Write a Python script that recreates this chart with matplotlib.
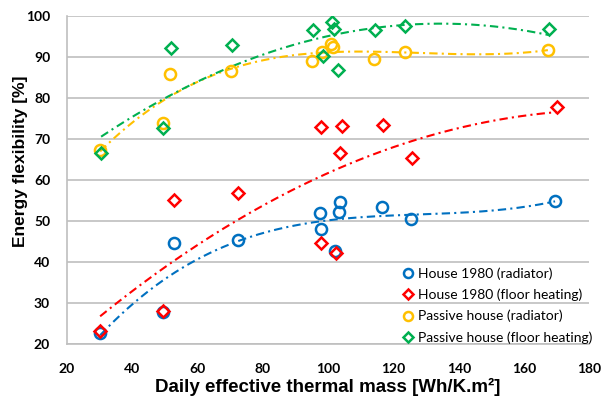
import numpy as np
import matplotlib
matplotlib.use("Agg")
import matplotlib.pyplot as plt
from matplotlib.lines import Line2D

# House 1980 (radiator)
h80_rad_x = [30.2, 49.3, 52.9, 72.4, 97.6, 97.9, 102.2, 103.2, 103.7, 116.6, 125.3, 169.5]
h80_rad_y = [22.8, 27.8, 44.6, 45.4, 52.0, 48.0, 42.7, 52.3, 54.5, 53.3, 50.4, 54.8]
# House 1980 (floor heating)
h80_flr_x = [30.2, 49.3, 52.9, 72.4, 97.9, 102.5, 97.9, 104.2, 103.5, 116.9, 125.6, 170.1]
h80_flr_y = [23.2, 28.1, 55.1, 56.8, 44.6, 42.3, 72.8, 73.2, 66.5, 73.5, 65.3, 77.9]
# Passive house (radiator)
ph_rad_x = [30.2, 49.3, 51.7, 70.4, 95.1, 98.0, 101.0, 101.4, 114.2, 123.6, 167.3]
ph_rad_y = [67.3, 73.8, 85.9, 86.6, 89.1, 91.1, 93.1, 92.5, 89.6, 91.3, 91.7]
# Passive house (floor heating)
ph_flr_x = [30.5, 49.6, 51.9, 70.5, 95.3, 98.4, 101.2, 101.7, 102.9, 114.4, 123.7, 167.5]
ph_flr_y = [66.6, 72.6, 92.1, 92.8, 96.5, 90.3, 98.6, 96.8, 86.8, 96.6, 97.6, 96.8]

labels = ["House 1980 (radiator)", "House 1980 (floor heating)",
          "Passive house (radiator)", "Passive house (floor heating)"]
colors = ["#0070C0", "#FF0000", "#FFC000", "#00B050"]
markers = ["o", "D", "o", "D"]
trend_order = [3, 2, 3, 2]   # polynomial trendline order per series

plt.rcParams["lines.scale_dashes"] = False

fig = plt.figure(figsize=(6.02, 3.97), dpi=100)
ax = fig.add_axes([0.111, 0.1335, 0.868, 0.8265])

series = [(h80_rad_x, h80_rad_y), (h80_flr_x, h80_flr_y),
          (ph_rad_x, ph_rad_y), (ph_flr_x, ph_flr_y)]

for (xs, ys), col, mk, deg in zip(series, colors, markers, trend_order):
    xs = np.array(xs)
    ys = np.array(ys)
    coef = np.polyfit(xs, ys, deg)
    xt = np.linspace(xs.min(), xs.max(), 200)
    ax.plot(xt, np.polyval(coef, xt), color=col, lw=1.5,
            linestyle=(0, (6, 3, 1.5, 3)), zorder=2)
    ms = 8 if mk == "o" else 6.5
    ax.plot(xs, ys, linestyle="none", marker=mk, ms=ms, mfc="none",
            mec=col, mew=1.8, zorder=3)

ax.set_xlim(20, 180)
ax.set_ylim(20, 100)
ax.set_xticks(np.arange(20, 181, 20))
ax.set_yticks(np.arange(20, 101, 10))
ax.yaxis.grid(True, color="#BFBFBF", lw=1.2)
ax.set_axisbelow(True)
for s in ["top", "right"]:
    ax.spines[s].set_visible(False)
for s in ["left", "bottom"]:
    ax.spines[s].set_color("#BFBFBF")
    ax.spines[s].set_linewidth(1.2)
ax.tick_params(axis="y", length=0, pad=12)
ax.tick_params(axis="x", length=0, pad=14)
for t in ax.get_xticklabels() + ax.get_yticklabels():
    t.set_fontfamily("Lato")
    t.set_fontweight("bold")
    t.set_fontsize(10)

ax.set_xlabel("Daily effective thermal mass [Wh/K.m\u00b2]", fontsize=13.5,
              fontweight="bold", family="Liberation Sans", labelpad=2)
ax.set_ylabel("Energy flexibility [%]", fontsize=12.5, fontweight="bold",
              family="Liberation Sans")
ax.yaxis.set_label_coords(-0.074, 0.558)

handles = [Line2D([], [], linestyle="none", marker=mk, mfc="none", mec=col,
                  mew=1.8, ms=(6.5 if mk == "o" else 5.2))
           for col, mk in zip(colors, markers)]
leg = ax.legend(handles, labels, loc="upper left", bbox_to_anchor=(0.643, 0.233),
                frameon=False, handlelength=0.8, handletextpad=0.3,
                labelspacing=0.62, borderpad=0, borderaxespad=0,
                prop={"family": "Lato", "size": 10})

fig.savefig("out.png", dpi=100)
